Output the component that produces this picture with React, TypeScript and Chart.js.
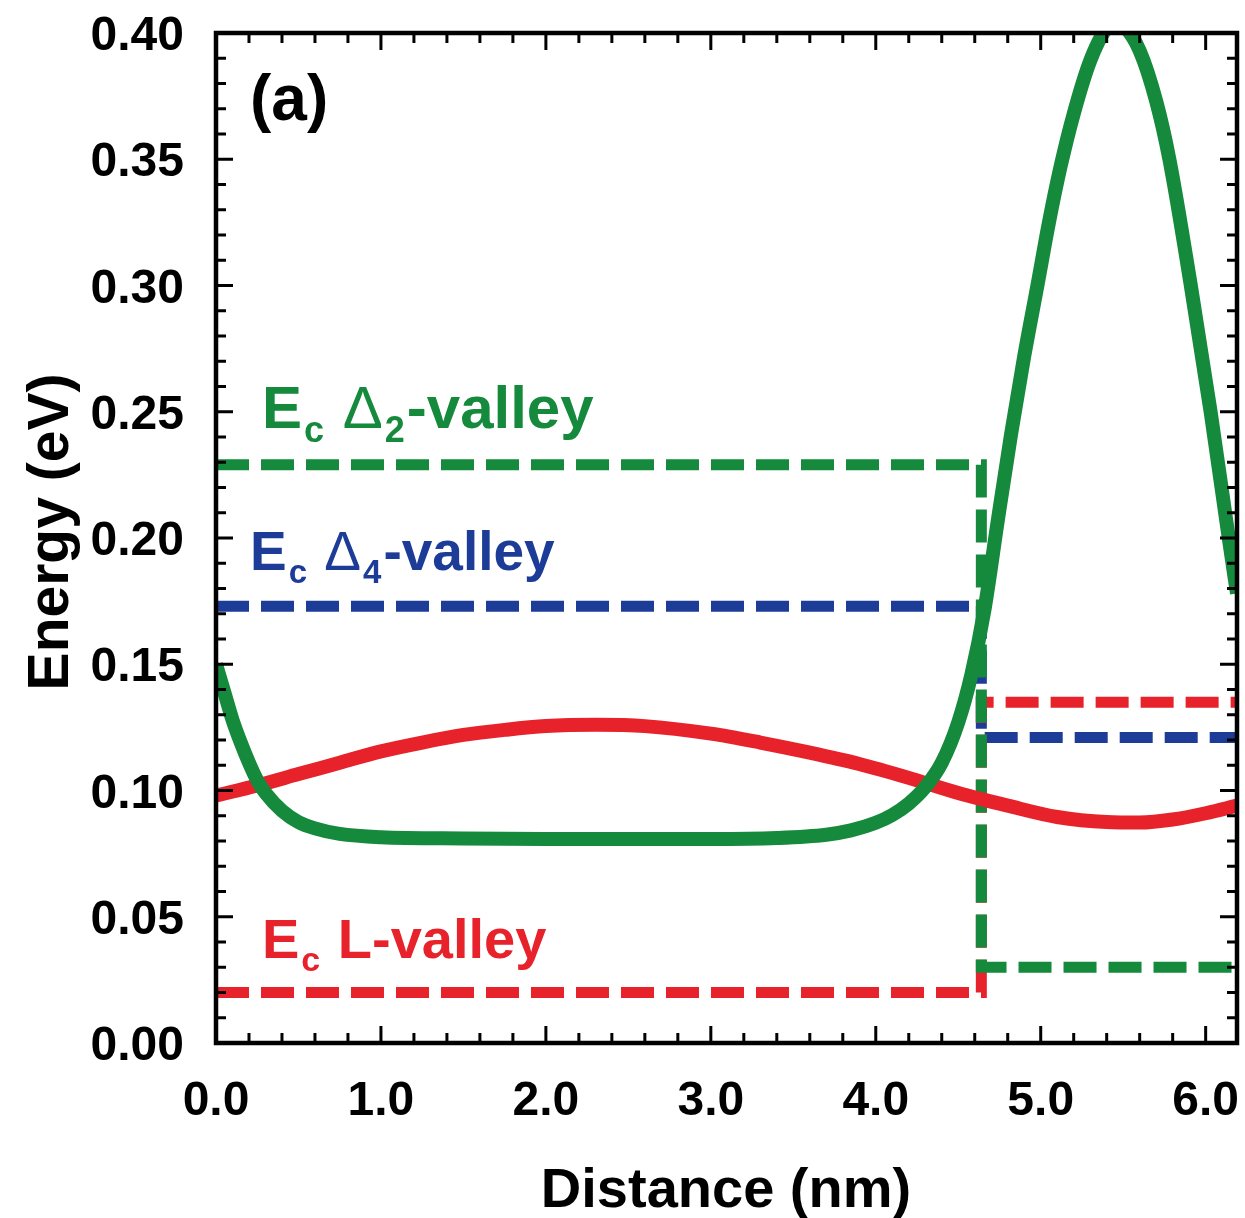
import React, { useEffect, useRef } from "react";
import { Chart, registerables } from "chart.js";

Chart.register(...registerables);

// ---- data ----
const xTickValues = [0, 1, 2, 3, 4, 5, 6];
const yTickValues = [0, 0.05, 0.1, 0.15, 0.2, 0.25, 0.3, 0.35, 0.4];
const xMin = 0;
const xMax = 6.19;
const yMin = 0;
const yMax = 0.4;

// Ec Delta2 valley (solid green)
const greenX = [0, 0.05, 0.1, 0.15, 0.2, 0.25, 0.3, 0.4, 0.5, 0.6, 0.75, 1.0, 1.5, 2.0, 2.5, 3.0, 3.4, 3.7, 3.85, 4.0, 4.1, 4.2, 4.3, 4.4, 4.5, 4.58, 4.66, 4.74, 4.82, 4.9, 4.98, 5.05, 5.12, 5.2, 5.3, 5.4, 5.45, 5.5, 5.6, 5.7, 5.78, 5.91, 6.03, 6.14, 6.19];
const greenY = [0.150, 0.139, 0.128, 0.119, 0.111, 0.104, 0.099, 0.092, 0.0875, 0.085, 0.0828, 0.0815, 0.081, 0.0808, 0.0808, 0.0808, 0.0812, 0.0825, 0.0842, 0.0872, 0.0903, 0.0948, 0.1013, 0.111, 0.127, 0.146, 0.172, 0.207, 0.241, 0.272, 0.300, 0.325, 0.347, 0.368, 0.389, 0.402, 0.404, 0.403, 0.393, 0.373, 0.350, 0.300, 0.250, 0.200, 0.178];

// Ec L valley (solid red)
const redX = [0, 0.25, 0.5, 0.75, 1.0, 1.25, 1.5, 1.75, 2.0, 2.3, 2.6, 3.0, 3.3, 3.6, 3.9, 4.2, 4.5, 4.8, 5.1, 5.4, 5.6, 5.8, 6.0, 6.19];
const redY = [0.098, 0.102, 0.1065, 0.111, 0.1155, 0.119, 0.122, 0.124, 0.1255, 0.126, 0.1255, 0.1225, 0.119, 0.115, 0.1105, 0.105, 0.099, 0.094, 0.0895, 0.0875, 0.0873, 0.0885, 0.091, 0.094];

// dashed step profiles
const d2X = [0, 4.64, 4.64, 6.19];
const d2Y = [0.229, 0.229, 0.030, 0.030];
const d4X = [0, 4.64, 4.64, 6.19];
const d4Y = [0.173, 0.173, 0.121, 0.121];
const lX = [0, 4.64, 4.64, 6.19];
const lY = [0.020, 0.020, 0.135, 0.135];

const GREEN = "#15893c";
const RED = "#e8222b";
const BLUE = "#1d3c98";
const FONT = '"Liberation Sans", Arial, Helvetica, sans-serif';

const toPts = (xs: number[], ys: number[]) => xs.map((x, i) => ({ x, y: ys[i] }));

const decorPlugin = {
  id: "decor",
  afterDraw(chart: any) {
    const ctx = chart.ctx as CanvasRenderingContext2D;
    const xs = chart.scales.x;
    const ys = chart.scales.y;
    const { left, right, top, bottom } = chart.chartArea;
    ctx.save();
    ctx.strokeStyle = "#000";
    ctx.fillStyle = "#000";
    // ticks
    ctx.lineWidth = 3;
    ctx.beginPath();
    for (let i = 0; i <= 31; i++) {
      const v = i * 0.2;
      if (v > xMax + 1e-9) break;
      const px = xs.getPixelForValue(v);
      const major = i % 5 === 0;
      const len = major ? 17 : 10;
      ctx.moveTo(px, bottom);
      ctx.lineTo(px, bottom - len);
      ctx.moveTo(px, top);
      ctx.lineTo(px, top + len);
    }
    for (let i = 0; i <= 40; i++) {
      const v = i * 0.01;
      const py = ys.getPixelForValue(v);
      const major = i % 5 === 0;
      const len = major ? 17 : 10;
      ctx.moveTo(left, py);
      ctx.lineTo(left + len, py);
      ctx.moveTo(right, py);
      ctx.lineTo(right - len, py);
    }
    ctx.stroke();
    // frame
    ctx.lineWidth = 4.5;
    ctx.strokeRect(left, top, right - left, bottom - top);

    // tick labels
    ctx.font = `bold 48px ${FONT}`;
    ctx.textBaseline = "alphabetic";
    ctx.textAlign = "center";
    xTickValues.forEach((v) => {
      ctx.fillText(v.toFixed(1), xs.getPixelForValue(v), 1115);
    });
    ctx.textAlign = "right";
    yTickValues.forEach((v) => {
      ctx.fillText(v.toFixed(2), left - 32, ys.getPixelForValue(v) + 17);
    });

    // axis titles
    ctx.font = `bold 56px ${FONT}`;
    ctx.textAlign = "center";
    ctx.fillText("Distance (nm)", 726, 1207);
    ctx.save();
    ctx.translate(68, 532);
    ctx.rotate(-Math.PI / 2);
    ctx.font = `bold 57px ${FONT}`;
    ctx.fillText("Energy (eV)", 0, 0);
    ctx.restore();

    // panel label
    ctx.font = `bold 64px ${FONT}`;
    ctx.textAlign = "left";
    ctx.fillText("(a)", 250, 120);

    // series labels with subscripts
    const label = (x: number, y: number, size: number, color: string, parts: [string, string, boolean][]) => {
      ctx.fillStyle = color;
      let cx = x;
      const sub = Math.round(size * 0.6);
      parts.forEach(([txt, kind, thin]) => {
        if (kind === "sub") {
          ctx.font = `bold ${sub}px ${FONT}`;
          ctx.fillText(txt, cx + 2, y + Math.round(size * 0.23));
          cx += ctx.measureText(txt).width + 4;
        } else {
          ctx.font = `${thin ? "" : "bold "}${size}px ${FONT}`;
          ctx.fillText(txt, cx, y);
          cx += ctx.measureText(txt).width;
        }
      });
    };
    label(262, 428, 60, GREEN, [["E", "n", false], ["c", "sub", false], [" ", "n", false], ["Δ", "n", true], ["2", "sub", false], ["-valley", "n", false]]);
    label(250, 570, 55, BLUE, [["E", "n", false], ["c", "sub", false], [" ", "n", false], ["Δ", "n", true], ["4", "sub", false], ["-valley", "n", false]]);
    label(262, 958, 56, RED, [["E", "n", false], ["c", "sub", false], [" L-valley", "n", false]]);
    ctx.restore();
  },
};

export default function App() {
  const ref = useRef<HTMLCanvasElement | null>(null);
  useEffect(() => {
    if (!ref.current) return;
    const solid = (data: any, color: string) => ({
      data,
      borderColor: color,
      backgroundColor: color,
      borderWidth: 14,
      pointRadius: 0,
      cubicInterpolationMode: "monotone" as const,
      borderJoinStyle: "round" as const,
      fill: false,
      clip: 0,
    });
    const dashed = (data: any, color: string) => ({
      data,
      borderColor: color,
      backgroundColor: color,
      borderWidth: 11,
      borderDash: [33, 12],
      borderCapStyle: "butt" as const,
      pointRadius: 0,
      tension: 0,
      fill: false,
      clip: 0,
    });
    const chart = new Chart(ref.current, {
      type: "line",
      data: {
        datasets: [
          solid(toPts(greenX, greenY), GREEN),
          solid(toPts(redX, redY), RED),
          dashed(toPts(d2X, d2Y), GREEN),
          dashed(toPts(lX, lY), RED),
          dashed(toPts(d4X, d4Y), BLUE),
        ],
      },
      options: {
        responsive: false,
        animation: false,
        devicePixelRatio: 1,
        layout: { padding: { left: 216, right: 8, top: 33, bottom: 175 } },
        plugins: { legend: { display: false }, tooltip: { enabled: false } },
        scales: {
          x: { type: "linear", min: xMin, max: xMax, display: false },
          y: { type: "linear", min: yMin, max: yMax, display: false },
        },
      },
      plugins: [decorPlugin],
    });
    return () => chart.destroy();
  }, []);
  return (
    <div style={{ position: "absolute", left: 0, top: 0, width: 1245, height: 1218, background: "#fff" }}>
      <canvas ref={ref} width={1245} height={1218} />
    </div>
  );
}
